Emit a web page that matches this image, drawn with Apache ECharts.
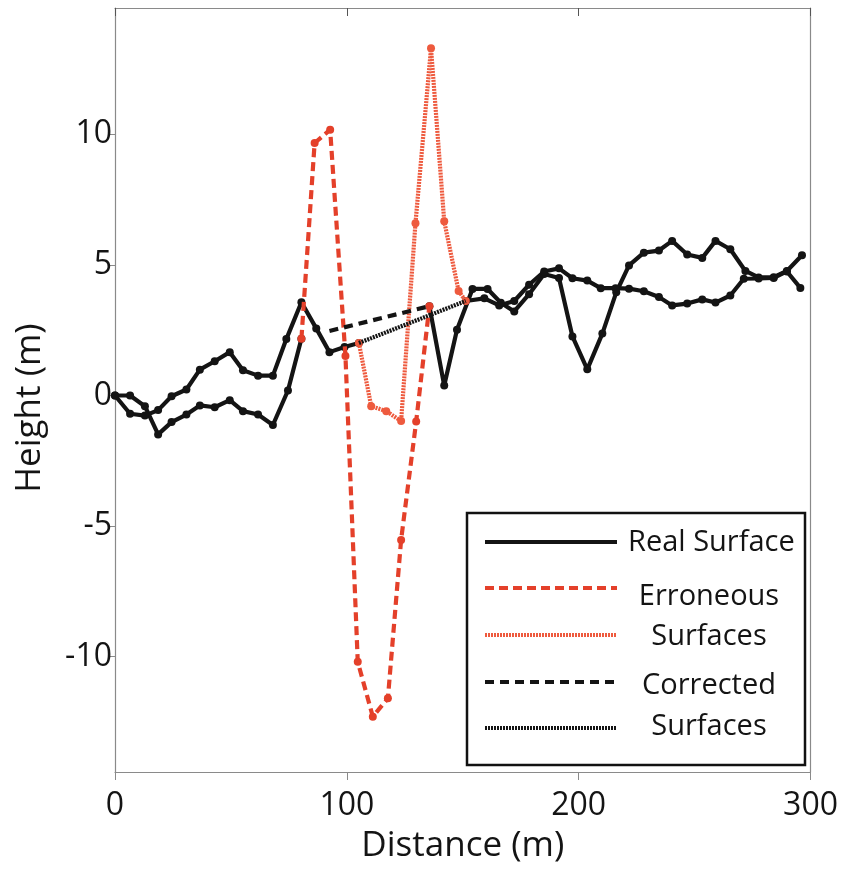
<!DOCTYPE html>
<html>
<head>
<meta charset="utf-8">
<script src="https://cdn.jsdelivr.net/npm/echarts@6/dist/echarts.min.js"></script>
<style>
html,body{margin:0;padding:0;background:#fff;}
#chart{width:841px;height:869px;}
</style>
</head>
<body>
<div id="chart"></div>
<script>
// ---- data ----
const realA1Dist   = [0, 6.5, 12.9, 18.6, 24.4, 30.8, 36.6, 43.0, 49.5, 55.2, 61.7, 68.1, 74.6, 80.4];
const realA1Height = [0.0, 0.0, -0.41, -1.49, -1.02, -0.73, -0.38, -0.45, -0.18, -0.60, -0.73, -1.13, 0.19, 2.17];
const realA2Dist   = [135.6, 142.0, 147.5, 154.2, 160.7, 166.4, 172.2, 178.6, 185.1, 191.5, 197.3, 203.7, 210.2, 216.2, 221.7, 228.1, 234.6, 240.3, 246.8, 253.3, 259.0, 265.4, 271.9, 277.6, 284.1, 289.8, 296.3];
const realA2Height = [3.42, 0.38, 2.52, 4.08, 4.08, 3.55, 3.22, 3.88, 4.65, 4.50, 2.26, 1.00, 2.37, 3.95, 4.98, 5.47, 5.55, 5.92, 5.40, 5.27, 5.92, 5.60, 4.77, 4.52, 4.53, 4.77, 5.37];

const realB1Dist   = [0, 6.5, 12.9, 18.6, 24.4, 30.8, 36.6, 43.0, 49.5, 55.2, 61.7, 68.1, 73.9, 80.4, 86.8, 92.5, 99.0, 105.2];
const realB1Height = [0.0, -0.70, -0.77, -0.56, -0.03, 0.23, 0.99, 1.31, 1.66, 0.97, 0.76, 0.76, 2.16, 3.57, 2.57, 1.66, 1.86, 2.01];
const realB2Dist   = [151.3, 159.3, 165.7, 172.2, 178.6, 185.1, 191.5, 197.3, 203.7, 209.5, 215.9, 221.7, 228.1, 234.6, 240.3, 246.8, 253.3, 259.0, 265.4, 271.2, 277.6, 284.1, 289.8, 295.6];
const realB2Height = [3.62, 3.72, 3.45, 3.62, 4.24, 4.75, 4.87, 4.49, 4.40, 4.11, 4.11, 4.09, 3.99, 3.77, 3.45, 3.52, 3.68, 3.56, 3.83, 4.47, 4.48, 4.50, 4.75, 4.12];

const errADist   = [80.4, 86.1, 92.8, 99.4, 104.7, 111.2, 117.7, 123.4, 129.9, 135.6];
const errAHeight = [2.17, 9.67, 10.18, 1.51, -10.2, -12.3, -11.6, -5.53, -1.0, 3.42];
const errBDist   = [105.2, 110.5, 117.0, 123.4, 129.6, 136.3, 142.0, 148.2, 151.3];
const errBHeight = [2.01, -0.41, -0.60, -0.98, 6.60, 13.30, 6.67, 4.00, 3.62];

const corrADist   = [92.5, 135.6];
const corrAHeight = [2.47, 3.42];
const corrBDist   = [105.2, 151.3];
const corrBHeight = [2.01, 3.62];

const xTicks = [0, 100, 200, 300];
const yTicks = [-10, -5, 0, 5, 10];

const xName = 'Distance (m)';
const yName = 'Height (m)';
const legendLabels = ['Real Surface', 'Erroneous', 'Surfaces', 'Corrected', 'Surfaces'];

// ---- helpers ----
const pairs = (xs, ys) => xs.map((x, i) => [x, ys[i]]);
const BLACK = '#141414';
const RED = '#e4402a';
const RED2 = '#ee5a3e';
const AXIS = '#8a8a8a';
const FONT = 'Open Sans';

function realSeries(xs, ys) {
  return {
    type: 'line', data: pairs(xs, ys), symbol: 'circle', symbolSize: 8,
    itemStyle: { color: BLACK }, lineStyle: { color: BLACK, width: 4.2 },
    animation: false, z: 3
  };
}

const chart = echarts.init(document.getElementById('chart'), null, { renderer: 'canvas' });

const legendFont = '29px "Open Sans"';

const option = {
  backgroundColor: '#fff',
  animation: false,
  grid: { left: 115, right: 29, top: 8, bottom: 96, containLabel: false },
  xAxis: [{
    type: 'value', position: 'bottom', min: 0, max: 300, interval: 100,
    axisLine: { show: true, onZero: false, lineStyle: { color: AXIS, width: 1.2 } },
    axisTick: { show: true, inside: false, length: 8, customValues: xTicks, lineStyle: { color: AXIS } },
    axisLabel: { color: BLACK, fontFamily: FONT, fontSize: 32, margin: 18, customValues: xTicks },
    splitLine: { show: false },
    name: xName, nameLocation: 'middle', nameGap: 57,
    nameTextStyle: { color: BLACK, fontFamily: FONT, fontSize: 35 }
  }, {
    type: 'value', position: 'top', min: 0, max: 300, interval: 100,
    axisLine: { show: true, onZero: false, lineStyle: { color: AXIS, width: 1.2 } },
    axisTick: { show: true, inside: true, length: 8, lineStyle: { color: '#555' } },
    axisLabel: { show: false }, splitLine: { show: false }
  }],
  yAxis: [{
    type: 'value', position: 'left', min: -14.42, max: 14.84,
    axisLine: { show: true, onZero: false, lineStyle: { color: AXIS, width: 1.2 } },
    axisTick: { show: true, inside: false, length: 5, customValues: yTicks, lineStyle: { color: AXIS } },
    axisLabel: { color: BLACK, fontFamily: FONT, fontSize: 32, margin: 3, customValues: yTicks },
    splitLine: { show: false }
  }, {
    type: 'value', position: 'right', min: -14.42, max: 14.84,
    axisLine: { show: true, onZero: false, lineStyle: { color: AXIS, width: 1.2 } },
    axisTick: { show: false }, axisLabel: { show: false }, splitLine: { show: false }
  }],
  series: [
    realSeries(realA1Dist, realA1Height),
    realSeries(realA2Dist, realA2Height),
    realSeries(realB1Dist, realB1Height),
    realSeries(realB2Dist, realB2Height),
    {
      type: 'line', data: pairs(errADist, errAHeight), symbol: 'circle', symbolSize: 8,
      itemStyle: { color: RED }, lineStyle: { color: RED, width: 4.2, type: [9, 5] }, z: 4
    },
    {
      type: 'line', data: pairs(errBDist, errBHeight), symbol: 'circle', symbolSize: 8,
      itemStyle: { color: RED2 }, lineStyle: { color: RED2, width: 4.2, type: [2, 1] }, z: 4
    },
    {
      type: 'line', data: pairs(corrADist, corrAHeight), symbol: 'none',
      lineStyle: { color: BLACK, width: 4.2, type: [9, 6] }, z: 5
    },
    {
      type: 'line', data: pairs(corrBDist, corrBHeight), symbol: 'none',
      lineStyle: { color: BLACK, width: 4.2, type: [2, 1] }, z: 5
    }
  ],
  graphic: {
    elements: [
      { type: 'text', z: 50, x: 30, y: 408, rotation: Math.PI / 2,
        style: { text: yName, fill: BLACK, font: '35px "Open Sans"', align: 'center', verticalAlign: 'middle' } },
      { type: 'rect', z: 100, shape: { x: 467, y: 513, width: 338, height: 252 },
        style: { fill: '#fff', stroke: '#111', lineWidth: 2.5 } },
      { type: 'line', z: 101, shape: { x1: 485, y1: 542, x2: 617, y2: 542 }, style: { stroke: BLACK, lineWidth: 4 } },
      { type: 'line', z: 101, shape: { x1: 485, y1: 588, x2: 617, y2: 588 }, style: { stroke: RED, lineWidth: 4, lineDash: [9, 5] } },
      { type: 'line', z: 101, shape: { x1: 485, y1: 635, x2: 617, y2: 635 }, style: { stroke: RED2, lineWidth: 4, lineDash: [2, 1] } },
      { type: 'line', z: 101, shape: { x1: 485, y1: 682, x2: 617, y2: 682 }, style: { stroke: BLACK, lineWidth: 4, lineDash: [9, 6] } },
      { type: 'line', z: 101, shape: { x1: 485, y1: 728, x2: 617, y2: 728 }, style: { stroke: BLACK, lineWidth: 4, lineDash: [2, 1] } },
      { type: 'text', z: 101, x: 628, y: 543, style: { text: legendLabels[0], fill: BLACK, font: legendFont, align: 'left', verticalAlign: 'middle' } },
      { type: 'text', z: 101, x: 709, y: 597, style: { text: legendLabels[1], fill: BLACK, font: legendFont, align: 'center', verticalAlign: 'middle' } },
      { type: 'text', z: 101, x: 709, y: 637, style: { text: legendLabels[2], fill: BLACK, font: legendFont, align: 'center', verticalAlign: 'middle' } },
      { type: 'text', z: 101, x: 709, y: 686, style: { text: legendLabels[3], fill: BLACK, font: legendFont, align: 'center', verticalAlign: 'middle' } },
      { type: 'text', z: 101, x: 709, y: 727, style: { text: legendLabels[4], fill: BLACK, font: legendFont, align: 'center', verticalAlign: 'middle' } }
    ]
  }
};
chart.setOption(option);
</script>
</body>
</html>
